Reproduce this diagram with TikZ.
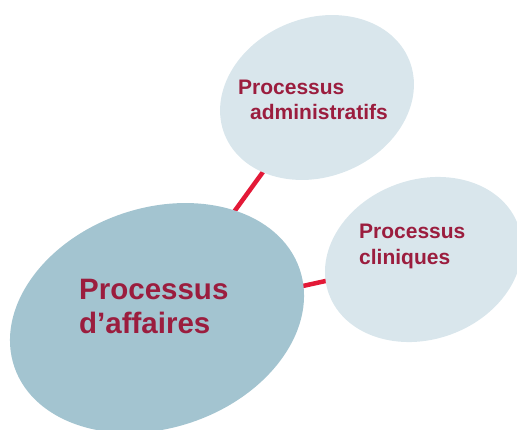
\documentclass[tikz,border=0pt]{standalone}
\usepackage{fontspec}
\setmainfont{Liberation Sans}
\usetikzlibrary{shapes.geometric,backgrounds}
\definecolor{bigfill}{HTML}{A3C4D0}
\definecolor{smallfill}{HTML}{D9E6EC}
\definecolor{labelred}{HTML}{9B1D3E}
\definecolor{linkred}{HTML}{E31937}
\begin{document}
\begin{tikzpicture}[x=1pt,y=-1pt,
  bubble/.style={ellipse, draw=none, inner sep=0pt, outer sep=0pt},
  bigbubble/.style={bubble, fill=bigfill},
  smallbubble/.style={bubble, fill=smallfill},
  link/.style={draw=linkred, line width=4.5pt},
  biglabel/.style={anchor=base west, inner sep=0pt, text=labelred, font=\fontsize{29.5}{34}\selectfont\bfseries},
  smalllabel/.style={anchor=base west, inner sep=0pt, text=labelred, font=\fontsize{21}{25}\selectfont\bfseries}]
\useasboundingbox (0,0) rectangle (517,430);
\clip (0,0) rectangle (517,430);
% bubbles
\node[bigbubble, minimum width=301.6pt, minimum height=219.8pt, rotate=19] (main) at (157,318) {};
\node[smallbubble, minimum width=199pt, minimum height=158.6pt, rotate=22] (admin) at (317,97.5) {};
\node[smallbubble, minimum width=201.4pt, minimum height=159.6pt, rotate=20] (clin) at (423.5,259.5) {};
% connectors behind the bubbles
\begin{pgfonlayer}{background}
\draw[link] (main.center) -- (admin.center);
\draw[link] (main.center) -- (clin.center);
\end{pgfonlayer}
% labels
\node[biglabel] (mainA) at (79,300) {Processus};
\node[biglabel] (mainB) at (79,334) {d’affaires};
\node[smalllabel] (adminA) at (238,95) {Processus};
\node[smalllabel] (adminB) at (250,120) {administratifs};
\node[smalllabel] (clinA) at (359,239) {Processus};
\node[smalllabel] (clinB) at (359,265) {cliniques};
\end{tikzpicture}
\end{document}
